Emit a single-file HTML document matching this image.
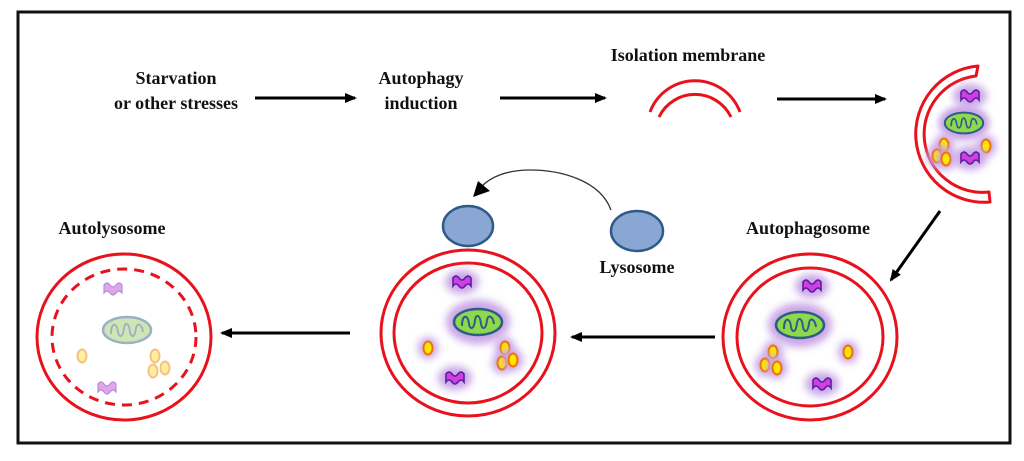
<!DOCTYPE html>
<html><head><meta charset="utf-8"><style>
html,body{margin:0;padding:0;background:#fff;}
svg{display:block;}
text{font-family:"Liberation Serif",serif;font-weight:bold;fill:#111;}
</style></head><body>
<svg width="1024" height="461" viewBox="0 0 1024 461" xmlns="http://www.w3.org/2000/svg">
<defs>
<filter id="bl" x="-50%" y="-50%" width="200%" height="200%"><feGaussianBlur stdDeviation="4"/></filter>
<marker id="ah" markerWidth="12" markerHeight="10" refX="10" refY="5" orient="auto" markerUnits="userSpaceOnUse"><path d="M0,0 L12,5 L0,10 z" fill="#000"/></marker>
<g id="pur"><ellipse cx="0" cy="0" rx="17" ry="12" fill="#c9a6e6" filter="url(#bl)"/><path d="M-9,-4 Q-6,-8 -3,-4 Q0,0 3,-4 Q6,-8 9,-4 L9,4 Q6,0 3,4 Q0,8 -3,4 Q-6,0 -9,4 Z" fill="#d040e0" stroke="#5a1ea0" stroke-width="1.6"/></g>
<g id="mito"><ellipse cx="0" cy="0" rx="32" ry="22" fill="#c9a6e6" filter="url(#bl)"/><ellipse cx="0" cy="0" rx="24" ry="13" fill="#8ed84c" stroke="#2e5c8a" stroke-width="2.5"/><path d="M-16,4 C-16,-8 -10,-8 -9,2 C-8,8 -4,8 -3,-2 C-2,-8 2,-8 3,2 C4,8 8,8 9,-2 C10,-8 15,-6 16,2" fill="none" stroke="#2e5c8a" stroke-width="2"/></g>
<g id="or"><ellipse cx="0" cy="0" rx="4.5" ry="6.5" fill="#ffe800" stroke="#f07010" stroke-width="2"/></g>
<g id="org"><ellipse cx="0" cy="0" rx="10" ry="11" fill="#c9a6e6" filter="url(#bl)"/><use href="#or"/></g>
</defs>
<rect x="18" y="12" width="992" height="431" fill="#fff" stroke="#111" stroke-width="3"/>

<text x="176" y="84" font-size="18" text-anchor="middle">Starvation</text>
<text x="176" y="109" font-size="18" text-anchor="middle">or other stresses</text>
<line x1="255" y1="98" x2="355" y2="98" stroke="#000" stroke-width="3" marker-end="url(#ah)"/>
<text x="421" y="84" font-size="18" text-anchor="middle">Autophagy</text>
<text x="421" y="109" font-size="18" text-anchor="middle">induction</text>
<line x1="500" y1="98" x2="605" y2="98" stroke="#000" stroke-width="3" marker-end="url(#ah)"/>
<text x="688" y="61" font-size="18" text-anchor="middle">Isolation  membrane</text>
<path d="M650,112 A48,48 0 0 1 740,112" fill="none" stroke="#e8121c" stroke-width="3"/>
<path d="M659,117 A40,40 0 0 1 731,117" fill="none" stroke="#e8121c" stroke-width="3"/>
<line x1="777" y1="99" x2="885" y2="99" stroke="#000" stroke-width="3" marker-end="url(#ah)"/>

<!-- C shape -->
<path d="M978,66 A68,68 0 1 0 990,202 L989,192 A58,58 0 1 1 976,76 Z" fill="#fff" stroke="#e8121c" stroke-width="3" stroke-linejoin="round"/>
<use href="#pur" x="970" y="96"/>
<use href="#mito" transform="translate(964,123) scale(0.8)"/>
<use href="#org" x="944" y="145"/><use href="#org" x="937" y="156"/><use href="#org" x="946" y="159"/>
<use href="#org" x="986" y="146"/>
<use href="#pur" x="970" y="158"/>

<line x1="940" y1="211" x2="891" y2="280" stroke="#000" stroke-width="3" marker-end="url(#ah)"/>
<text x="808" y="234" font-size="18" text-anchor="middle">Autophagosome</text>

<ellipse cx="810" cy="337" rx="87" ry="83" fill="#fff" stroke="#e8121c" stroke-width="3"/>
<ellipse cx="810" cy="337" rx="73" ry="69" fill="none" stroke="#e8121c" stroke-width="3"/>
<use href="#pur" x="812" y="286"/>
<use href="#mito" x="800" y="325"/>
<use href="#org" x="773" y="352"/><use href="#org" x="765" y="365"/><use href="#org" x="777" y="368"/>
<use href="#org" x="848" y="352"/>
<use href="#pur" x="822" y="384"/>

<line x1="715" y1="337" x2="572" y2="337" stroke="#000" stroke-width="3" marker-end="url(#ah)"/>

<ellipse cx="468" cy="333" rx="87" ry="83" fill="#fff" stroke="#e8121c" stroke-width="3"/>
<ellipse cx="468" cy="333" rx="74" ry="70" fill="none" stroke="#e8121c" stroke-width="3"/>
<use href="#pur" x="462" y="282"/>
<use href="#mito" x="478" y="322"/>
<use href="#org" x="428" y="348"/>
<use href="#org" x="505" y="348"/><use href="#org" x="502" y="363"/><use href="#org" x="513" y="360"/>
<use href="#pur" x="455" y="378"/>
<ellipse cx="468" cy="226" rx="25" ry="20" fill="#8aa6d2" stroke="#2e5a88" stroke-width="2.5"/>
<ellipse cx="637" cy="231" rx="26" ry="20" fill="#8aa6d2" stroke="#2e5a88" stroke-width="2.5"/>
<text x="637" y="273" font-size="18" text-anchor="middle">Lysosome</text>
<path d="M611,210 C600,180 560,170 530,170 C505,170 490,178 482,186" fill="none" stroke="#333" stroke-width="1.3"/>
<path d="M473,197 L478,181 L490,191 z" fill="#000"/>

<line x1="350" y1="333" x2="222" y2="333" stroke="#000" stroke-width="3" marker-end="url(#ah)"/>

<text x="112" y="234" font-size="18" text-anchor="middle">Autolysosome</text>
<ellipse cx="124" cy="337" rx="87" ry="83" fill="#fff" stroke="#e8121c" stroke-width="3"/>
<ellipse cx="124" cy="337" rx="72" ry="68" fill="none" stroke="#e8121c" stroke-width="3" stroke-dasharray="10,7"/>
<path d="M104,285 Q107,281 110,285 Q113,289 116,285 Q119,281 122,285 L122,293 Q119,289 116,293 Q113,297 110,293 Q107,289 104,293 Z" fill="#dba8ec" stroke="#c08ad8" stroke-width="1.2"/>
<ellipse cx="127" cy="330" rx="24" ry="13" fill="#cfe6b4" stroke="#9ab0c6" stroke-width="2.5"/>
<path d="M111,334 C111,322 117,322 118,332 C119,338 123,338 124,328 C125,322 129,322 130,332 C131,338 135,338 136,328 C137,322 142,324 143,332" fill="none" stroke="#9ab0c6" stroke-width="1.8"/>
<g fill="#fff0a0" stroke="#f5c080" stroke-width="2">
<ellipse cx="82" cy="356" rx="4.5" ry="6.5"/>
<ellipse cx="155" cy="356" rx="4.5" ry="6.5"/><ellipse cx="153" cy="371" rx="4.5" ry="6.5"/><ellipse cx="165" cy="368" rx="4.5" ry="6.5"/>
</g>
<path d="M98,384 Q101,380 104,384 Q107,388 110,384 Q113,380 116,384 L116,392 Q113,388 110,392 Q107,396 104,392 Q101,388 98,392 Z" fill="#dba8ec" stroke="#c08ad8" stroke-width="1.2"/>
</svg>
</body></html>
